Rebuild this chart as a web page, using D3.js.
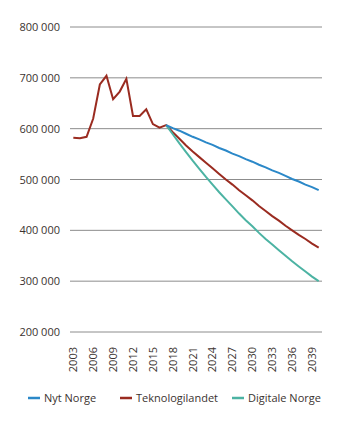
<!DOCTYPE html>
<html>
<head>
<meta charset="utf-8">
<script src="https://cdn.jsdelivr.net/npm/d3@7"></script>
<style>
  html, body { margin: 0; padding: 0; background: #fff; }
  svg { display: block; font-family: "Open Sans", sans-serif; }
</style>
</head>
<body>
<svg id="chart" width="345" height="425"></svg>
<script>
// ---- Data ----
const years = [2003,2004,2005,2006,2007,2008,2009,2010,2011,2012,2013,2014,2015,2016,2017,
  2018,2019,2020,2021,2022,2023,2024,2025,2026,2027,2028,2029,2030,2031,2032,2033,2034,2035,
  2036,2037,2038,2039,2040];
const xTickLabels = ["2003","2006","2009","2012","2015","2018","2021","2024","2027","2030","2033","2036","2039"];
const yTicks = [200000,300000,400000,500000,600000,700000,800000];

// Historical 2003-2017 (shared with Teknologilandet)
const historical = [582,581,584,620,687,704,658,673,698,625,625,638,609,602,607];
// Projections 2017-2040 (thousands)
const nytNorge = [607,601,596,590,584,579,573,568,562,557,551,546,540,535,529,524,518,513,507,501,496,490,485,479];
const teknologilandet = [607,593,580,567,555,544,533,522,511,500,490,479,469,459,448,438,428,419,409,400,391,383,374,366];
const digitaleNorge = [607,589,571,554,537,521,505,490,475,461,447,433,420,408,395,383,372,361,350,339,329,319,309,300];

const seriesNames = ["Nyt Norge","Teknologilandet","Digitale Norge"];
const seriesColors = ["#2b88c8","#9a2b20","#4cb3a3"];

// ---- Build series ----
const projYears = years.slice(14);
const series = [
  { name: seriesNames[1], color: seriesColors[1],
    values: historical.map((v,i)=>({year: years[i], v: v*1000}))
      .concat(teknologilandet.slice(1).map((v,i)=>({year: projYears[i+1], v: v*1000}))) },
  { name: seriesNames[2], color: seriesColors[2],
    values: digitaleNorge.map((v,i)=>({year: projYears[i], v: v*1000})) },
  { name: seriesNames[0], color: seriesColors[0],
    values: nytNorge.map((v,i)=>({year: projYears[i], v: v*1000})) }
];

const svg = d3.select("#chart");
const mLeft = 70, mRight = 322, mTop = 27, mBottom = 332;

const x = d3.scaleBand().domain(years).range([mLeft, mRight]);
const xc = d => x(d) + x.bandwidth()/2;
const y = d3.scaleLinear().domain([200000, 800000]).range([mBottom, mTop]);

const fmt = v => d3.format(",")(v).replace(/,/g, " ");

// Gridlines
svg.append("g").selectAll("line").data(yTicks).join("line")
  .attr("x1", mLeft).attr("x2", mRight)
  .attr("y1", d => y(d)).attr("y2", d => y(d))
  .attr("stroke", "#8c8c8c").attr("stroke-width", 1);

// Y axis labels
const yAxis = d3.axisLeft(y).tickValues(yTicks).tickFormat(fmt).tickSize(0).tickPadding(10);
const gy = svg.append("g").attr("transform", `translate(${mLeft},0)`).call(yAxis);
gy.select(".domain").remove();
gy.selectAll("text").attr("font-size", 11).attr("fill", "#3b3330")
  .attr("font-family", "Open Sans, sans-serif");

// X axis labels
const xAxis = d3.axisBottom(x).tickValues(xTickLabels.map(Number)).tickSize(0).tickFormat(d => String(d));
const gx = svg.append("g").attr("transform", `translate(0,${mBottom})`).call(xAxis);
gx.select(".domain").remove();
gx.selectAll("text")
  .attr("font-size", 11).attr("fill", "#3b3330")
  .attr("font-family", "Open Sans, sans-serif")
  .attr("transform", "rotate(-90)")
  .attr("text-anchor", "end")
  .attr("x", -15).attr("y", 0).attr("dy", "0.35em");

// Lines
const line = d3.line().x(d => xc(d.year)).y(d => y(d.v));
svg.append("g").selectAll("path").data(series).join("path")
  .attr("d", d => line(d.values))
  .attr("fill", "none")
  .attr("stroke", d => d.color)
  .attr("stroke-width", 2)
  .attr("stroke-linejoin", "miter");

// Legend
const legendX = [28, 120, 232];
const lg = svg.append("g").selectAll("g").data(seriesNames).join("g")
  .attr("transform", (d,i) => `translate(${legendX[i]},398)`);
lg.append("line").attr("x1", 0).attr("x2", 12).attr("y1", 0).attr("y2", 0)
  .attr("stroke", (d,i) => seriesColors[i]).attr("stroke-width", 2.5);
lg.append("text").attr("x", 16).attr("y", 0).attr("dy", "0.35em")
  .attr("font-size", 11).attr("fill", "#3b3330").text(d => d);
</script>
</body>
</html>
